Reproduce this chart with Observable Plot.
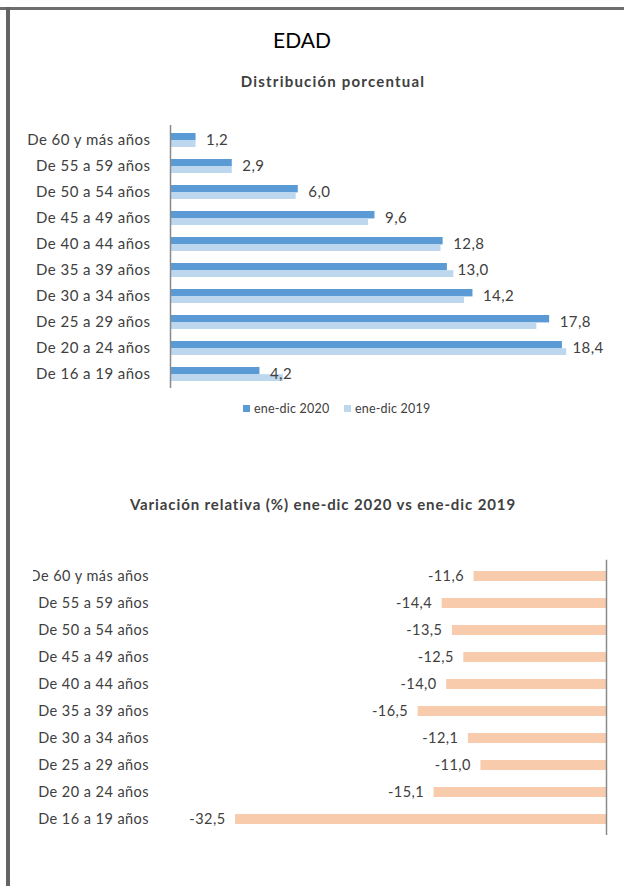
<!DOCTYPE html>
<html>
<head>
<meta charset="utf-8">
<script src="https://cdn.jsdelivr.net/npm/d3@7"></script>
<script src="https://cdn.jsdelivr.net/npm/@observablehq/plot@0.6"></script>
<style>
  html, body { margin: 0; padding: 0; background: #fff; }
  #page { position: relative; width: 624px; height: 886px; overflow: hidden; font-family: Lato, "Open Sans", sans-serif; color: #404040; }
  .abs { position: absolute; }
  .title { text-align: center; white-space: nowrap; }
  #legend { display: flex; align-items: center; font-size: 12.5px; color: #404040; letter-spacing: 0.2px; }
  #legend .sw { width: 7px; height: 7px; margin-right: 4px; }
  #legend .item { display: flex; align-items: center; width: 101px; }
</style>
</head>
<body>
<div id="page">
  <div class="abs" style="left:0;top:7px;width:624px;height:3px;background:#6e6e6e;"></div>
  <div class="abs" style="left:6px;top:7px;width:4px;height:879px;background:#646464;"></div>
  <div class="abs title" style="left:102px;top:27px;width:400px;font-size:21px;color:#000;">EDAD</div>
  <div class="abs title" style="left:133px;top:72px;width:400px;font-size:15px;letter-spacing:1.2px;font-weight:bold;color:#404040;">Distribución porcentual</div>
  <div id="top" class="abs" style="left:0;top:100px;"></div>
  <div id="legend" class="abs" style="left:243px;top:401px;"></div>
  <div class="abs title" style="left:23px;top:495px;width:600px;font-size:15px;letter-spacing:0.9px;font-weight:bold;color:#404040;">Variación relativa (%) ene-dic 2020 vs ene-dic 2019</div>
  <div id="bottom" class="abs" style="left:33px;top:540px;width:591px;height:310px;overflow:hidden;"></div>
</div>
<script>
const categories = ["De 60 y más años","De 55 a 59 años","De 50 a 54 años","De 45 a 49 años","De 40 a 44 años","De 35 a 39 años","De 30 a 34 años","De 25 a 29 años","De 20 a 24 años","De 16 a 19 años"];
const values2020 = [1.2, 2.9, 6.0, 9.6, 12.8, 13.0, 14.2, 17.8, 18.4, 4.2];
const values2019 = [1.2, 2.9, 5.9, 9.3, 12.7, 13.3, 13.8, 17.2, 18.6, 5.3];
const variation = [-11.6, -14.4, -13.5, -12.5, -14.0, -16.5, -12.1, -11.0, -15.1, -32.5];
const seriesNames = ["ene-dic 2020", "ene-dic 2019"];
const seriesColors = ["#5b9bd5", "#bdd7ee"];
const peach = "#f8cbad";

const locale = d3.formatLocale({decimal: ",", thousands: ".", grouping: [3], currency: ["", " €"], minus: "-"});
const fmt = locale.format(".1f");

const rows = categories.map((c, i) => ({cat: c, v2020: values2020[i], v2019: values2019[i], dv: variation[i]}));

const topPlot = Plot.plot({
  width: 624,
  height: 300,
  marginLeft: 170,
  marginRight: 28,
  marginTop: 18,
  marginBottom: 5,
  style: {fontFamily: "Lato, 'Open Sans', sans-serif", fontSize: "15px", letterSpacing: "0.45px", color: "#404040", background: "transparent"},
  x: {domain: [0, 20], axis: null},
  y: {domain: categories, padding: 0.48, tickSize: 0, tickPadding: 20, label: null},
  marks: [
    Plot.barX(rows, {y: "cat", x: "v2020", fill: seriesColors[0], insetBottom: 6.6}),
    Plot.barX(rows, {y: "cat", x: "v2019", fill: seriesColors[1], insetTop: 7.2}),
    Plot.ruleX([0], {stroke: "#8a8a8a", strokeWidth: 1.5, insetTop: 7, insetBottom: 7}),
    Plot.text(rows, {y: "cat", x: "v2020", text: d => fmt(d.v2020), dx: 10, textAnchor: "start", fill: "#404040", fontSize: 15})
  ]
});
document.getElementById("top").appendChild(topPlot);

const legend = document.getElementById("legend");
seriesNames.forEach((n, i) => {
  const it = document.createElement("div");
  it.className = "item";
  const sw = document.createElement("div");
  sw.className = "sw";
  sw.style.background = seriesColors[i];
  const t = document.createElement("span");
  t.textContent = n;
  it.appendChild(sw); it.appendChild(t);
  legend.appendChild(it);
});

const bottomPlot = Plot.plot({
  width: 591,
  height: 310,
  marginLeft: 173.5,
  marginRight: 18,
  marginTop: 11.7,
  marginBottom: 6.1,
  style: {fontFamily: "Lato, 'Open Sans', sans-serif", fontSize: "14.5px", letterSpacing: "0.45px", color: "#404040", background: "transparent", overflow: "hidden"},
  x: {domain: [-35, 0], axis: null},
  y: {domain: categories, padding: 0.64, tickSize: 0, tickPadding: 58, label: null},
  marks: [
    Plot.barX(rows, {y: "cat", x1: 0, x2: "dv", fill: peach}),
    Plot.ruleX([0], {stroke: "#8a8a8a", strokeWidth: 1.5, insetTop: 8, insetBottom: 9}),
    Plot.text(rows, {y: "cat", x: "dv", text: d => fmt(d.dv), dx: -10, textAnchor: "end", fill: "#404040", fontSize: 14.5})
  ]
});
document.getElementById("bottom").appendChild(bottomPlot);
</script>
</body>
</html>
